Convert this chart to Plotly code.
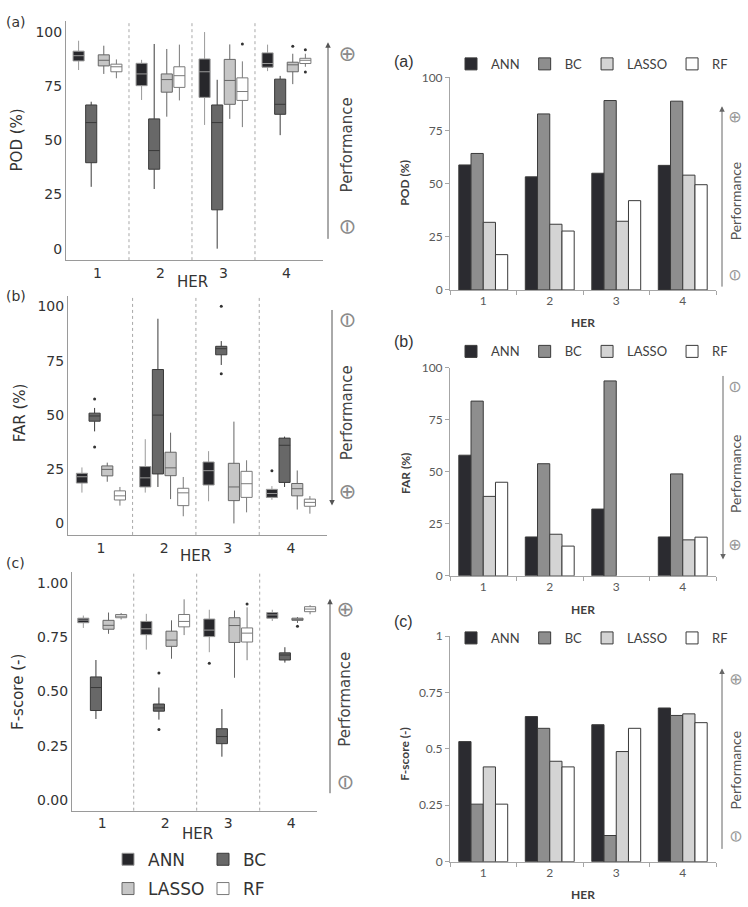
import plotly.graph_objects as go

W, H = 748, 907
HER = ["1", "2", "3", "4"]
MODELS = ["ANN", "BC", "LASSO", "RF"]

# ---- Box statistics per HER: [lowerfence, q1, median, q3, upperfence]
POD_ANN = [[82.3, 86.5, 88.9, 91.0, 95.8], [68.5, 75.1, 80.5, 85.4, 87.0], [57.0, 69.7, 81.5, 87.4, 99.8], [81.8, 83.6, 85.3, 90.2, 94.0]]
POD_BC = [[28.5, 39.6, 58.1, 66.2, 67.7], [27.5, 36.6, 45.2, 59.8, 94.3], [0.0, 17.9, 58.1, 66.2, 77.8], [52.3, 61.9, 66.5, 78.1, 79.6]]
POD_LASSO = [[80.5, 84.2, 86.8, 89.3, 93.5], [60.8, 72.1, 77.9, 80.5, 92.0], [59.8, 66.5, 77.5, 87.2, 94.1], [75.8, 81.5, 84.7, 85.9, 89.8]]
POD_RF = [[78.5, 81.5, 83.8, 85.0, 87.2], [68.3, 74.3, 79.7, 83.8, 94.0], [56.0, 68.3, 72.4, 78.7, 86.3], [83.8, 85.3, 86.8, 87.7, 89.8]]
POD_ANN_OUT = [[], [], [], []]
POD_BC_OUT = [[], [], [], []]
POD_LASSO_OUT = [[], [], [], [93.2]]
POD_RF_OUT = [[], [], [94.3], [91.6, 81.4]]

FAR_ANN = [[14.2, 18.6, 21.5, 23.1, 25.8], [14.2, 16.8, 21.0, 26.2, 38.8], [10.2, 17.7, 24.3, 28.3, 33.3], [10.9, 12.0, 13.8, 15.7, 17.2]]
FAR_BC = [[42.4, 47.1, 49.5, 50.8, 53.2], [16.8, 22.8, 49.9, 70.9, 94.3], [73.0, 77.7, 80.5, 81.6, 84.0], [16.8, 18.9, 36.0, 39.3, 40.0]]
FAR_LASSO = [[19.2, 21.9, 24.9, 26.5, 28.0], [11.2, 22.0, 25.6, 32.8, 41.8], [0.0, 10.5, 16.8, 27.7, 46.9], [6.4, 12.7, 16.0, 18.4, 24.4]]
FAR_RF = [[8.2, 10.8, 12.7, 15.0, 16.8], [3.3, 8.2, 14.1, 16.2, 21.4], [5.1, 12.0, 18.3, 24.0, 29.1], [4.5, 7.9, 9.7, 11.2, 12.6]]
FAR_ANN_OUT = [[], [], [], [24.3]]
FAR_BC_OUT = [[57.3, 35.2], [], [100.0, 69.0], []]
FAR_LASSO_OUT = [[], [], [], []]
FAR_RF_OUT = [[], [], [], []]

FSC_ANN = [[0.793, 0.817, 0.829, 0.838, 0.850], [0.693, 0.762, 0.789, 0.823, 0.858], [0.681, 0.753, 0.783, 0.834, 0.877], [0.825, 0.838, 0.853, 0.864, 0.877]]
FSC_BC = [[0.373, 0.412, 0.518, 0.567, 0.645], [0.370, 0.409, 0.424, 0.442, 0.518], [0.199, 0.259, 0.292, 0.328, 0.419], [0.633, 0.645, 0.668, 0.678, 0.704]]
FSC_LASSO = [[0.766, 0.787, 0.805, 0.828, 0.864], [0.651, 0.708, 0.737, 0.778, 0.828], [0.563, 0.726, 0.804, 0.840, 0.873], [0.816, 0.828, 0.832, 0.838, 0.843]]
FSC_RF = [[0.832, 0.840, 0.847, 0.855, 0.862], [0.760, 0.798, 0.823, 0.855, 0.925], [0.644, 0.728, 0.769, 0.793, 0.888], [0.856, 0.868, 0.880, 0.891, 0.898]]
FSC_ANN_OUT = [[], [], [0.630], []]
FSC_BC_OUT = [[], [0.585, 0.325], [], []]
FSC_LASSO_OUT = [[], [], [], [0.801]]
FSC_RF_OUT = [[], [], [0.903], []]

# ---- Bar values (right column)
BAR_POD_ANN = [58.8, 53.2, 54.9, 58.6]
BAR_POD_BC = [64.2, 82.8, 89.1, 88.8]
BAR_POD_LASSO = [31.8, 30.9, 32.3, 54.0]
BAR_POD_RF = [16.6, 27.7, 42.0, 49.5]
BAR_FAR_ANN = [58.0, 18.7, 32.1, 18.7]
BAR_FAR_BC = [84.0, 53.9, 93.7, 49.0]
BAR_FAR_LASSO = [38.2, 20.0, 0.0, 17.3]
BAR_FAR_RF = [45.0, 14.3, 0.0, 18.6]
BAR_FSC_ANN = [0.532, 0.643, 0.607, 0.681]
BAR_FSC_BC = [0.255, 0.591, 0.116, 0.648]
BAR_FSC_LASSO = [0.420, 0.445, 0.488, 0.655]
BAR_FSC_RF = [0.255, 0.420, 0.591, 0.616]

Y_TICKS_PCT = [0, 25, 50, 75, 100]
Y_TICKS_FSC_LEFT = [0.0, 0.25, 0.5, 0.75, 1.0]
Y_TICKTEXT_FSC_LEFT = ["0.00", "0.25", "0.50", "0.75", "1.00"]
Y_TICKS_FSC_RIGHT = [0, 0.25, 0.5, 0.75, 1]
Y_TICKTEXT_FSC_RIGHT = ["0", "0.25", "0.5", "0.75", "1"]

BOX_FILL = {"ANN": "#27272b", "BC": "#686868", "LASSO": "#c6c6c6", "RF": "#ffffff"}
BOX_LINE = {"ANN": "#9a9a9a", "BC": "#3a3a3a", "LASSO": "#666666", "RF": "#7a7a7a"}
BAR_FILL = {"ANN": "#2b2b30", "BC": "#8e8e8e", "LASSO": "#d4d4d4", "RF": "#ffffff"}

LFONT = "DejaVu Sans"
RFONT = "Lato"


def dx(a, b):
    return [a / W, b / W]


def dy(top, bottom):
    return [1 - bottom / H, 1 - top / H]


def px(x):
    return x / W


def py(y):
    return 1 - y / H


fig = go.Figure()

box_sets = [
    ("x", "y", {"ANN": (POD_ANN, POD_ANN_OUT), "BC": (POD_BC, POD_BC_OUT), "LASSO": (POD_LASSO, POD_LASSO_OUT), "RF": (POD_RF, POD_RF_OUT)}, False),
    ("x2", "y2", {"ANN": (FAR_ANN, FAR_ANN_OUT), "BC": (FAR_BC, FAR_BC_OUT), "LASSO": (FAR_LASSO, FAR_LASSO_OUT), "RF": (FAR_RF, FAR_RF_OUT)}, False),
    ("x3", "y3", {"ANN": (FSC_ANN, FSC_ANN_OUT), "BC": (FSC_BC, FSC_BC_OUT), "LASSO": (FSC_LASSO, FSC_LASSO_OUT), "RF": (FSC_RF, FSC_RF_OUT)}, True),
]
for xa, ya, data, show in box_sets:
    for m in MODELS:
        stats, outs = data[m]
        kw = {}
        if any(len(r) for r in outs):
            # each sample row must be non-empty so plotly treats it as 2D
            kw["y"] = [[None] + list(r) for r in outs]
            kw["boxpoints"] = "outliers"
        else:
            kw["boxpoints"] = False
        fig.add_trace(go.Box(
            x=HER,
            lowerfence=[s[0] for s in stats],
            q1=[s[1] for s in stats],
            median=[s[2] for s in stats],
            q3=[s[3] for s in stats],
            upperfence=[s[4] for s in stats],
            jitter=0, pointpos=0,
            marker=dict(size=3, color="#333333"),
            name=m, offsetgroup=m,
            fillcolor=BOX_FILL[m],
            line=dict(color=BOX_LINE[m], width=1),
            whiskerwidth=0,
            xaxis=xa, yaxis=ya,
            showlegend=show,
            legend="legend" if m in ("ANN", "BC") else "legend2",
            hoverinfo="skip",
            **kw,
        ))

bar_sets = [
    ("x4", "y4", {"ANN": BAR_POD_ANN, "BC": BAR_POD_BC, "LASSO": BAR_POD_LASSO, "RF": BAR_POD_RF}, "legend3"),
    ("x5", "y5", {"ANN": BAR_FAR_ANN, "BC": BAR_FAR_BC, "LASSO": BAR_FAR_LASSO, "RF": BAR_FAR_RF}, "legend4"),
    ("x6", "y6", {"ANN": BAR_FSC_ANN, "BC": BAR_FSC_BC, "LASSO": BAR_FSC_LASSO, "RF": BAR_FSC_RF}, "legend5"),
]
for xa, ya, data, lg in bar_sets:
    for m in MODELS:
        vals = data[m]
        fig.add_trace(go.Bar(
            x=HER, y=vals, name=m,
            marker=dict(color=BAR_FILL[m],
                        line=dict(color="#3a3a3a", width=[1 if v else 0 for v in vals])),
            xaxis=xa, yaxis=ya, legend=lg, showlegend=True,
        ))

# ---- Axes
left_x = dict(type="category", categoryorder="array", categoryarray=HER, showline=True,
              linecolor="#9a9a9a", linewidth=1, showgrid=False, zeroline=False, ticks="",
              tickfont=dict(family=LFONT, size=14, color="#333333"))
left_y = dict(showline=True, linecolor="#9a9a9a", linewidth=1, showgrid=False, zeroline=False,
              ticks="", tickfont=dict(family=LFONT, size=14, color="#333333"))
right_x = dict(type="category", categoryorder="array", categoryarray=HER, showline=True,
               linecolor="#a6a6a6", linewidth=1, showgrid=False, zeroline=False,
               ticks="outside", tickson="boundaries", ticklen=4, tickcolor="#a6a6a6",
               tickfont=dict(family=RFONT, size=12, color="#595959"), range=[-0.5, 3.5])
right_y = dict(showline=True, linecolor="#a6a6a6", linewidth=1, showgrid=False, zeroline=False,
               ticks="outside", ticklen=4, tickcolor="#a6a6a6",
               tickfont=dict(family=RFONT, size=12, color="#595959"))

layout = dict(
    width=W, height=H, margin=dict(l=0, r=0, t=0, b=0),
    paper_bgcolor="white", plot_bgcolor="white",
    boxmode="group", boxgap=0.2, boxgroupgap=0.12,
    barmode="group", bargap=0.265, bargroupgap=0,
    xaxis=dict(left_x, domain=dx(66, 323), range=[-0.5, 3.58], anchor="y"),
    yaxis=dict(left_y, domain=dy(13, 257), range=[-5.3, 105], tickvals=Y_TICKS_PCT, anchor="x"),
    xaxis2=dict(left_x, domain=dx(68, 327), range=[-0.52, 3.57], anchor="y2"),
    yaxis2=dict(left_y, domain=dy(293, 537), range=[-5.3, 105], tickvals=Y_TICKS_PCT, anchor="x2"),
    xaxis3=dict(left_x, domain=dx(72, 317), range=[-0.48, 3.41], anchor="y3"),
    yaxis3=dict(left_y, domain=dy(575, 818), range=[-0.05, 1.05], tickvals=Y_TICKS_FSC_LEFT,
                ticktext=Y_TICKTEXT_FSC_LEFT, anchor="x3"),
    xaxis4=dict(right_x, domain=dx(450, 716), anchor="y4"),
    yaxis4=dict(right_y, domain=dy(70.7, 287.3), range=[0, 100], tickvals=Y_TICKS_PCT, anchor="x4"),
    xaxis5=dict(right_x, domain=dx(450, 716), anchor="y5"),
    yaxis5=dict(right_y, domain=dy(366.7, 578.7), range=[0, 100], tickvals=Y_TICKS_PCT, anchor="x5"),
    xaxis6=dict(right_x, domain=dx(450, 716), anchor="y6"),
    yaxis6=dict(right_y, domain=dy(640, 870), range=[0, 1], tickvals=Y_TICKS_FSC_RIGHT,
                ticktext=Y_TICKTEXT_FSC_RIGHT, anchor="x6"),
)

box_leg = dict(orientation="h", xanchor="left", yanchor="middle", bgcolor="rgba(0,0,0,0)",
               font=dict(family=LFONT, size=17, color="#333333"), entrywidth=50,
               itemwidth=30, tracegroupgap=0)
layout["legend"] = dict(box_leg, x=px(108), y=py(868))
layout["legend2"] = dict(box_leg, x=px(108), y=py(898))
bar_leg = dict(orientation="h", xanchor="center", yanchor="middle", bgcolor="rgba(0,0,0,0)",
               font=dict(family=RFONT, size=13, color="#404040"), itemwidth=30)
layout["legend3"] = dict(bar_leg, x=px(592), y=py(57))
layout["legend4"] = dict(bar_leg, x=px(592), y=py(350))
layout["legend5"] = dict(bar_leg, x=px(592), y=py(642))
fig.update_layout(**layout)

# ---- Dotted separators between HER groups (left column)
for xa in ["x", "x2", "x3"]:
    for b in [0.5, 1.5, 2.5]:
        fig.add_shape(type="line", xref=xa, yref=f"{'y' + xa[1:]} domain", x0=b, x1=b, y0=0, y1=1,
                      line=dict(color="#a8a8a8", width=1, dash="dot"), layer="below")

ann = []


def text(x, y, s, size, family, color="#333333", angle=0, bold=False, xanchor="center"):
    ann.append(dict(x=px(x), y=py(y), xref="paper", yref="paper", text=f"<b>{s}</b>" if bold else s,
                    showarrow=False, textangle=angle, xanchor=xanchor, yanchor="middle",
                    font=dict(family=family, size=size, color=color)))


def arrow(x, y_tail, y_head, color="#555555"):
    ann.append(dict(x=px(x), y=py(y_head), xref="paper", yref="paper", ax=0, ay=y_tail - y_head,
                    axref="pixel", ayref="pixel", text="", showarrow=True, arrowhead=2,
                    arrowsize=1.1, arrowwidth=1, arrowcolor=color))


# panel letters
text(4, 14, "(a)", 14, LFONT, xanchor="left")
text(4, 294, "(b)", 14, LFONT, xanchor="left")
text(4, 566, "(c)", 14, LFONT, xanchor="left")
text(392, 55, "(a)", 16, "Liberation Sans", xanchor="left")
text(392, 340, "(b)", 16, "Liberation Sans", xanchor="left")
text(392, 625, "(c)", 16, "Liberation Sans", xanchor="left")

# left axis titles
text(17, 135, "POD (%)", 15, LFONT, angle=-90)
text(20, 413, "FAR (%)", 15, LFONT, angle=-90)
text(18, 697, "F-score (-)", 15, LFONT, angle=-90)
text(193, 279, "HER", 15, LFONT)
text(195, 558, "HER", 15, LFONT)
text(197, 842, "HER", 15, LFONT)

# right axis titles
text(405, 178, "POD (%)", 12, RFONT, "#404040", angle=-90, bold=True)
text(405, 475, "FAR (%)", 12, RFONT, "#404040", angle=-90, bold=True)
text(405, 760, "F-score (-)", 12, RFONT, "#404040", angle=-90, bold=True)
text(583, 320, "HER", 12, RFONT, "#404040", bold=True)
text(583, 613, "HER", 12, RFONT, "#404040", bold=True)
text(583, 903, "HER", 12, RFONT, "#404040", bold=True)

SYM = 21
# performance indicators (left column)
arrow(328, 233, 35)
text(347, 140, "Performance", 15, LFONT, "#444444", angle=-90)
text(347, 47, "⊕", SYM, LFONT, "#8a8a8a", angle=-90)
text(347, 223, "⊖", SYM, LFONT, "#8a8a8a", angle=-90)

arrow(332, 310, 507)
text(347, 413, "Performance", 15, LFONT, "#444444", angle=-90)
text(347, 318, "⊖", SYM, LFONT, "#8a8a8a", angle=-90)
text(347, 493, "⊕", SYM, LFONT, "#8a8a8a", angle=-90)

arrow(330, 798, 602)
text(345, 705, "Performance", 15, LFONT, "#444444", angle=-90)
text(345, 613, "⊕", SYM, LFONT, "#8a8a8a", angle=-90)
text(345, 789, "⊖", SYM, LFONT, "#8a8a8a", angle=-90)

# performance indicators (right column)
RS = 16
arrow(722, 282, 100, "#666666")
text(735, 197, "Performance", 14, RFONT, "#555555", angle=-90)
text(735, 112, "⊕", RS, LFONT, "#9a9a9a", angle=-90)
text(735, 273, "⊖", RS, LFONT, "#9a9a9a", angle=-90)

arrow(723, 377, 562, "#666666")
text(735, 475, "Performance", 14, RFONT, "#555555", angle=-90)
text(735, 387, "⊖", RS, LFONT, "#9a9a9a", angle=-90)
text(735, 548, "⊕", RS, LFONT, "#9a9a9a", angle=-90)

arrow(722, 855, 673, "#666666")
text(735, 777, "Performance", 14, RFONT, "#555555", angle=-90)
text(735, 685, "⊕", RS, LFONT, "#9a9a9a", angle=-90)
text(735, 845, "⊖", RS, LFONT, "#9a9a9a", angle=-90)

fig.update_layout(annotations=ann)
fig.write_html("out.html")
